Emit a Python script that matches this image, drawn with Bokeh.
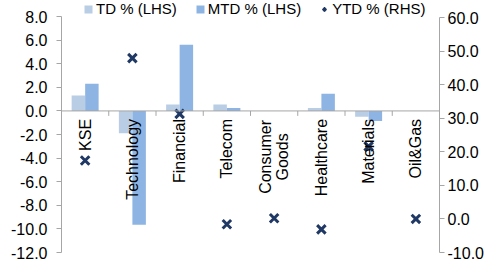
import numpy as np
from bokeh.plotting import figure
from bokeh.models import (FactorRange, Range1d, LinearAxis, FixedTicker, NumeralTickFormatter,
                          ColumnDataSource, Legend, LegendItem, Span)
from bokeh.core.properties import value
from bokeh.embed import file_html
from bokeh.resources import INLINE

# ---- data ----
categories = ["KSE", "Technology", "Financial", "Telecom", "Consumer Goods",
              "Healthcare", "Materials", "Oil&Gas"]
td_pct = [1.3, -1.9, 0.55, 0.55, 0.0, 0.25, -0.5, 0.0]
mtd_pct = [2.3, -9.65, 5.6, 0.25, 0.0, 1.45, -0.85, 0.0]
ytd_pct = [17.4, 47.9, 31.3, -1.6, 0.2, -3.1, 21.6, 0.0]
left_ticks = [-12, -10, -8, -6, -4, -2, 0, 2, 4, 6, 8]
right_ticks = [-10, 0, 10, 20, 30, 40, 50, 60]
legend_labels = ["TD % (LHS)", "MTD % (LHS)", "YTD % (RHS)"]

FONT = "Liberation Sans"
GREY = "#a6a6a6"
C_TD = "#b9cde5"
C_MTD = "#8db4e2"
C_YTD = "#1f3864"

# frame spans the full top of the canvas so the legend is not clipped;
# axis lines are bounded to the tick range
p = figure(width=486, height=279, output_backend="svg", toolbar_location=None,
           x_range=FactorRange(*categories), y_range=Range1d(-12, 9.36),
           x_axis_location=None, min_border_left=61, min_border_right=41,
           min_border_top=0, min_border_bottom=27)
p.outline_line_color = None
p.grid.visible = False
p.background_fill_color = "white"
p.border_fill_color = "white"
p.extra_y_ranges = {"ytd": Range1d(-10, 65.07)}

single = [c for c in categories if " " not in c]
multi = [c for c in categories if " " in c]
src = ColumnDataSource(dict(cat=categories, td=td_pct, mtd=mtd_pct, ytd=ytd_pct))

r_td = p.vbar(x=[(c, -0.143) for c in categories], top=td_pct, bottom=0, width=0.285,
              fill_color=C_TD, line_color=None)
r_mtd = p.vbar(x=[(c, 0.143) for c in categories], top=mtd_pct, bottom=0, width=0.285,
               fill_color=C_MTD, line_color=None)

# zero line with category ticks
p.add_layout(Span(location=0, dimension="width", line_color=GREY, line_width=1))
bx = [(c, -0.5) for c in categories] + [(categories[-1], 0.5)]
p.segment(x0=bx, x1=bx, y0=[0] * len(bx), y1=[-0.42] * len(bx), line_color=GREY, line_width=1)

r_ytd = p.scatter(x="cat", y="ytd", source=src, y_range_name="ytd", marker="x", size=12,
                  line_width=3, line_color=C_YTD)

# category labels (rotated, hanging below the zero line)
p.text(x=single, y=[0] * len(single), text=single, angle=np.pi / 2, text_align="right",
       text_baseline="middle", y_offset=8, text_font=value(FONT), text_font_size="16px",
       text_color="black")
p.text(x=multi, y=[0] * len(multi), text=[c.replace(" ", "\n") for c in multi],
       angle=np.pi / 2, text_align="center", text_baseline="middle", y_offset=46,
       text_font=value(FONT), text_font_size="16px", text_color="black",
       text_line_height=1.0)

# left axis
ya = p.yaxis[0]
ya.ticker = FixedTicker(ticks=left_ticks)
ya.bounds = (left_ticks[0], left_ticks[-1])
ya.formatter = NumeralTickFormatter(format="0.0")
ya.axis_line_color = GREY
ya.major_tick_line_color = GREY
ya.major_tick_out = 5
ya.major_tick_in = 0
ya.minor_tick_line_color = None
ya.major_label_text_font = FONT
ya.major_label_text_font_size = "16px"
ya.major_label_text_color = "black"
ya.major_label_standoff = 9

# right axis
ra = LinearAxis(y_range_name="ytd", ticker=FixedTicker(ticks=right_ticks),
                formatter=NumeralTickFormatter(format="0.0"),
                bounds=(right_ticks[0], right_ticks[-1]))
ra.axis_line_color = GREY
ra.major_tick_line_color = GREY
ra.major_tick_out = 5
ra.major_tick_in = 0
ra.minor_tick_line_color = None
ra.major_label_text_font = FONT
ra.major_label_text_font_size = "16px"
ra.major_label_text_color = "black"
ra.major_label_standoff = 3
p.add_layout(ra, "right")

legend = Legend(items=[LegendItem(label=legend_labels[0], renderers=[r_td]),
                       LegendItem(label=legend_labels[1], renderers=[r_mtd]),
                       LegendItem(label=legend_labels[2], renderers=[r_ytd])],
                orientation="horizontal", location=(22, 235), padding=0, margin=0,
                spacing=18, glyph_width=10, glyph_height=10, label_standoff=3,
                label_height=16, label_text_font=FONT, label_text_font_size="15px",
                label_text_color="black", border_line_color=None,
                background_fill_alpha=0)
p.add_layout(legend, "center")

open("out.html", "w").write(file_html(p, INLINE))
